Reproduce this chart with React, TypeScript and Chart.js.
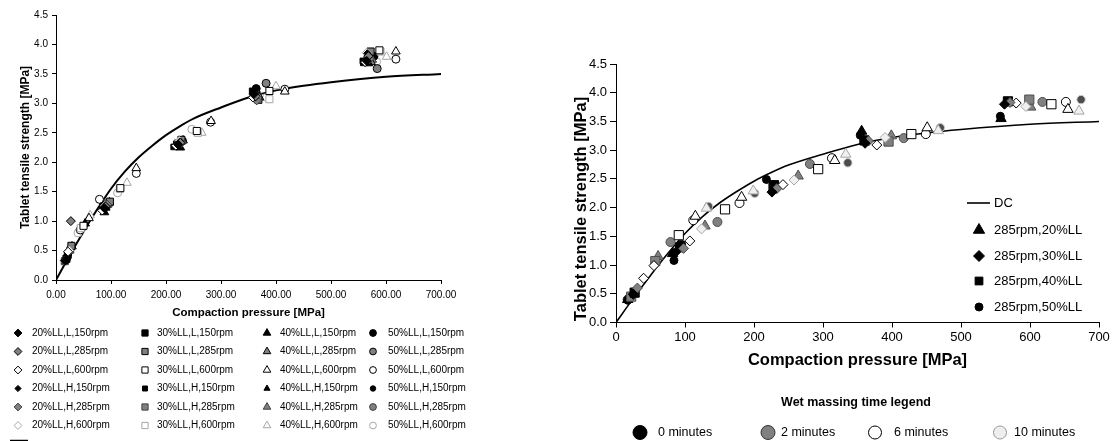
import React, { useEffect, useRef } from 'react';
import { Chart, registerables } from 'chart.js';

Chart.register(...registerables);

const FONT = "'Liberation Sans', Arial, Helvetica, sans-serif";

// ---------- DC reference curve ----------
const dcPressure = [0, 25, 50, 75, 100, 125, 150, 175, 200, 225, 250, 300, 350, 400, 450, 500, 600, 700];
const dcStrength = [0, 0.42, 0.82, 1.2, 1.55, 1.84, 2.08, 2.28, 2.46, 2.61, 2.74, 2.93, 3.1, 3.22, 3.3, 3.36, 3.45, 3.5];

// ---------- Left chart series: [pressure MPa, tensile strength MPa] ----------
const l20L150 = [[17, 0.33], [88, 1.22], [222, 2.3], [360, 3.16], [565, 3.72]];
const l20L285 = [[27, 1.0], [90, 1.25], [226, 2.33], [363, 3.12], [568, 3.8]];
const l20L600 = [[22, 0.48], [84, 1.18], [218, 2.28], [358, 3.1], [562, 3.7]];
const l20H150 = [[18, 0.34], [91, 1.24], [225, 2.35], [362, 3.1], [566, 3.85]];
const l20H285 = [[16, 0.33], [93, 1.28], [228, 2.33], [365, 3.05], [570, 3.75]];
const l20H600 = [[24, 0.5], [89, 1.26], [224, 2.36], [364, 3.12], [565, 3.86]];
const l30L150 = [[19, 0.36], [86, 1.24], [220, 2.3], [358, 3.2], [560, 3.7]];
const l30L285 = [[28, 0.58], [98, 1.33], [228, 2.38], [368, 3.06], [572, 3.88]];
const l30L600 = [[50, 0.92], [117, 1.56], [256, 2.53], [388, 3.21], [588, 3.9]];
const l30H150 = [[17, 0.33], [87, 1.2], [214, 2.26], [362, 3.14], [558, 3.72]];
const l30H285 = [[16, 0.32], [95, 1.3], [222, 2.32], [366, 3.08], [567, 3.78]];
const l30H600 = [[45, 0.88], [116, 1.55], [258, 2.5], [388, 3.07], [590, 3.88]];
const l40L150 = [[53, 0.96], [88, 1.15], [226, 2.25], [365, 3.14], [568, 3.68]];
const l40L285 = [[29, 0.57], [97, 1.32], [231, 2.37], [370, 3.1], [573, 3.7]];
const l40L600 = [[60, 1.05], [146, 1.9], [282, 2.7], [416, 3.2], [618, 3.88]];
const l40H150 = [[20, 0.38], [92, 1.22], [220, 2.27], [361, 3.18], [562, 3.74]];
const l40H285 = [[25, 0.5], [94, 1.28], [224, 2.34], [367, 3.13], [575, 3.74]];
const l40H600 = [[62, 1.1], [129, 1.65], [265, 2.5], [400, 3.29], [601, 3.79]];
const l50L150 = [[21, 0.4], [90, 1.27], [229, 2.36], [364, 3.25], [578, 3.8]];
const l50L285 = [[26, 0.52], [96, 1.3], [230, 2.36], [382, 3.34], [584, 3.59]];
const l50L600 = [[44, 0.85], [79, 1.37], [146, 1.81], [281, 2.68], [416, 3.24], [618, 3.75]];
const l50H150 = [[23, 0.45], [91, 1.25], [225, 2.33], [362, 3.12], [570, 3.84]];
const l50H285 = [[22, 0.46], [93, 1.27], [227, 2.36], [366, 3.15], [568, 3.82]];
const l50H600 = [[40, 0.8], [112, 1.48], [247, 2.56], [383, 3.1], [583, 3.71]];

const llLabels = ['20%LL', '30%LL', '40%LL', '50%LL'];
const leftVariantLabels = ['L,150rpm', 'L,285rpm', 'L,600rpm', 'H,150rpm', 'H,285rpm', 'H,600rpm'];
const leftSeries = [
  [l20L150, l20L285, l20L600, l20H150, l20H285, l20H600],
  [l30L150, l30L285, l30L600, l30H150, l30H285, l30H600],
  [l40L150, l40L285, l40L600, l40H150, l40H285, l40H600],
  [l50L150, l50L285, l50L600, l50H150, l50H285, l50H600],
];

// ---------- Right chart series (285 rpm), by liquid level and wet massing time ----------
const r20m0 = [[25, 0.49], [86, 1.22], [226, 2.27], [361, 3.12], [563, 3.8]];
const r20m2 = [[31, 0.6], [98, 1.29], [233, 2.33], [366, 3.16], [571, 3.83]];
const r20m6 = [[40, 0.77], [55, 0.99], [107, 1.42], [242, 2.4], [378, 3.09], [580, 3.82]];
const r20m10 = [[124, 1.63], [258, 2.48], [390, 3.22], [594, 3.76]];
const r30m0 = [[27, 0.52], [93, 1.31], [229, 2.39], [360, 3.17], [568, 3.85]];
const r30m2 = [[22, 0.45], [57, 1.07], [228, 2.35], [395, 3.15], [599, 3.88]];
const r30m6 = [[91, 1.52], [158, 1.97], [293, 2.67], [428, 3.28], [631, 3.8]];
const r30m10: number[][] = [];
const r40m0 = [[17, 0.4], [82, 1.2], [356, 3.33], [558, 3.55]];
const r40m2 = [[61, 1.15], [129, 1.68], [264, 2.55], [399, 3.25], [601, 3.75]];
const r40m6 = [[115, 1.85], [182, 2.18], [317, 2.82], [451, 3.39], [655, 3.71]];
const r40m10 = [[131, 1.99], [199, 2.29], [333, 2.93], [467, 3.34], [671, 3.68]];
const r50m0 = [[17, 0.39], [84, 1.08], [95, 1.36], [218, 2.49], [354, 3.26], [557, 3.59]];
const r50m2 = [[79, 1.4], [147, 1.75], [281, 2.76], [417, 3.21], [618, 3.84]];
const r50m6 = [[17, 0.4], [112, 1.78], [179, 2.08], [313, 2.86], [449, 3.28], [652, 3.84]];
const r50m10 = [[134, 2.02], [201, 2.25], [336, 2.78], [470, 3.39], [674, 3.88]];

const rightSeries = [
  [r20m0, r20m2, r20m6, r20m10],
  [r30m0, r30m2, r30m6, r30m10],
  [r40m0, r40m2, r40m6, r40m10],
  [r50m0, r50m2, r50m6, r50m10],
];
const minuteLabels = ['0 minutes', '2 minutes', '6 minutes', '10 minutes'];
const rightLegendLabels = ['285rpm,20%LL', '285rpm,30%LL', '285rpm,40%LL', '285rpm,50%LL'];

// ---------- styles ----------
const shapes = ['rectRot', 'rect', 'triangle', 'circle'];
const leftRadius = [4.5, 5, 5, 4];
const leftVariantStyle = [
  { fill: '#000000', stroke: '#000000', scale: 1 },
  { fill: '#808080', stroke: '#000000', scale: 1 },
  { fill: '#ffffff', stroke: '#000000', scale: 1 },
  { fill: '#000000', stroke: '#000000', scale: 0.8 },
  { fill: '#808080', stroke: '#404040', scale: 1 },
  { fill: '#ffffff', stroke: '#a6a6a6', scale: 1 },
];
const rightRadius = [5, 6.5, 6, 4.5];
const minuteStyle = [
  { fill: '#000000', stroke: '#000000' },
  { fill: '#808080', stroke: '#4d4d4d' },
  { fill: '#ffffff', stroke: '#000000' },
  { fill: '#f0f0f0', stroke: '#a6a6a6' },
];

const toXY = (pairs: number[][]) => pairs.map(([x, y]) => ({ x, y }));
const dcData = dcPressure.map((p, i) => ({ x: p, y: dcStrength[i] }));

function drawMarker(ctx: CanvasRenderingContext2D, shape: string, x: number, y: number, r: number, fill: string, stroke: string) {
  ctx.save();
  ctx.beginPath();
  if (shape === 'circle') {
    ctx.arc(x, y, r, 0, Math.PI * 2);
  } else if (shape === 'rect') {
    const s = r * Math.SQRT1_2;
    ctx.rect(x - s, y - s, 2 * s, 2 * s);
  } else if (shape === 'rectRot') {
    ctx.moveTo(x - r, y);
    ctx.lineTo(x, y - r);
    ctx.lineTo(x + r, y);
    ctx.lineTo(x, y + r);
  } else {
    let rad = 0;
    ctx.moveTo(x + Math.sin(rad) * r, y - Math.cos(rad) * r);
    rad += (2 * Math.PI) / 3;
    ctx.lineTo(x + Math.sin(rad) * r, y - Math.cos(rad) * r);
    rad += (2 * Math.PI) / 3;
    ctx.lineTo(x + Math.sin(rad) * r, y - Math.cos(rad) * r);
  }
  ctx.closePath();
  ctx.fillStyle = fill;
  ctx.fill();
  ctx.lineWidth = 1;
  ctx.strokeStyle = stroke;
  ctx.stroke();
  ctx.restore();
}

function drawText(ctx: CanvasRenderingContext2D, text: string, x: number, y: number, font: string, align: CanvasTextAlign = 'left', rotate = 0) {
  ctx.save();
  ctx.font = font;
  ctx.fillStyle = '#000';
  ctx.textAlign = align;
  ctx.textBaseline = 'middle';
  ctx.translate(x, y);
  if (rotate) ctx.rotate(rotate);
  ctx.fillText(text, 0, 0);
  ctx.restore();
}

function axisBase(tickDigits: number, size: number, tickLen: number, pad: number) {
  return {
    type: 'linear' as const,
    ticks: {
      font: { family: FONT, size },
      color: '#000',
      padding: pad,
      maxRotation: 0,
      autoSkip: false,
      callback: (v: any) => Number(v).toFixed(tickDigits),
    },
    grid: { display: true, drawOnChartArea: false, drawTicks: true, tickLength: tickLen, color: '#000', lineWidth: 1 },
    border: { display: true, color: '#000', width: 1 },
  };
}

function leftConfig(): any {
  const datasets: any[] = [];
  leftSeries.forEach((group, li) => {
    group.forEach((pairs, vi) => {
      const st = leftVariantStyle[vi];
      datasets.push({
        type: 'scatter',
        label: `${llLabels[li]},${leftVariantLabels[vi]}`,
        data: toXY(pairs),
        pointStyle: shapes[li],
        pointRadius: leftRadius[li] * st.scale,
        pointBackgroundColor: st.fill,
        pointBorderColor: st.stroke,
        pointBorderWidth: 1,
        showLine: false,
      });
    });
  });
  datasets.push({
    type: 'line',
    label: 'DC',
    data: dcData,
    borderColor: '#000',
    borderWidth: 2,
    pointRadius: 0,
    cubicInterpolationMode: 'monotone',
    fill: false,
  });

  const legendPlugin = {
    id: 'leftLegend',
    afterDraw(chart: any) {
      const ctx = chart.ctx as CanvasRenderingContext2D;
      const markerX = [18, 145, 267, 373];
      const textX = [32, 157, 280, 388];
      const rowY = [333, 351.5, 370, 388.5, 407, 425.5];
      const font = `10px ${FONT}`;
      leftSeries.forEach((group, li) => {
        group.forEach((_, vi) => {
          const st = leftVariantStyle[vi];
          drawMarker(ctx, shapes[li], markerX[li], rowY[vi], (leftRadius[li] - 0.6) * st.scale, st.fill, st.stroke);
          drawText(ctx, `${llLabels[li]},${leftVariantLabels[vi]}`, textX[li], rowY[vi], font);
        });
      });
      ctx.save();
      ctx.beginPath();
      ctx.moveTo(10, 440.5);
      ctx.lineTo(28, 440.5);
      ctx.lineWidth = 1.5;
      ctx.strokeStyle = '#000';
      ctx.stroke();
      ctx.restore();
      drawText(ctx, 'DC', 31, 446, font);
    },
  };

  const x = axisBase(2, 10, 4, 5);
  const y = axisBase(1, 10, 4, 4);
  return {
    type: 'scatter',
    data: { datasets },
    plugins: [legendPlugin],
    options: {
      animation: false,
      responsive: false,
      devicePixelRatio: 1,
      layout: { padding: { left: 0, top: 15, right: 117, bottom: 116 } },
      plugins: { legend: { display: false }, tooltip: { enabled: false } },
      scales: {
        x: {
          ...x,
          min: 0,
          max: 700,
          ticks: { ...x.ticks, stepSize: 100 },
          title: {
            display: true,
            text: 'Compaction pressure [MPa]',
            color: '#000',
            font: { family: FONT, size: 11.5, weight: 'bold' },
            padding: { top: 0, bottom: 5 },
          },
          afterFit: (s: any) => { s.height = 45; },
        },
        y: {
          ...y,
          min: 0,
          max: 4.5,
          ticks: { ...y.ticks, stepSize: 0.5 },
          title: {
            display: true,
            text: 'Tablet tensile strength [MPa]',
            color: '#000',
            font: { family: FONT, size: 12, weight: 'bold' },
            padding: { top: 18, bottom: 0 },
          },
          afterFit: (s: any) => { s.width = 56; },
        },
      },
    },
  };
}

function rightConfig(): any {
  const datasets: any[] = [];
  rightSeries.forEach((group, li) => {
    group.forEach((pairs, mi) => {
      if (!pairs.length) return;
      let st = minuteStyle[mi];
      let r = rightRadius[li];
      if (li === 3 && mi === 0) r = 4;
      if (li === 3 && mi === 3) { st = { fill: '#4d4d4d', stroke: '#c8c8c8' }; r = 4.2; }
      datasets.push({
        type: 'scatter',
        label: `${rightLegendLabels[li]} ${minuteLabels[mi]}`,
        data: toXY(pairs),
        pointStyle: shapes[li],
        pointRadius: r,
        pointBackgroundColor: st.fill,
        pointBorderColor: st.stroke,
        pointBorderWidth: 1,
        showLine: false,
      });
    });
  });
  datasets.push({
    type: 'line',
    label: 'DC',
    data: dcData,
    borderColor: '#000',
    borderWidth: 1.6,
    pointRadius: 0,
    cubicInterpolationMode: 'monotone',
    fill: false,
  });

  const OX = 558;
  const legendPlugin = {
    id: 'rightLegend',
    afterDraw(chart: any) {
      const ctx = chart.ctx as CanvasRenderingContext2D;
      const f13 = `13px ${FONT}`;
      // y axis title
      drawText(ctx, 'Tablet tensile strength [MPa]', 581 - OX, 209, `bold 16.5px ${FONT}`, 'center', -Math.PI / 2);
      // inner legend
      ctx.save();
      ctx.beginPath();
      ctx.moveTo(967 - OX, 203);
      ctx.lineTo(990 - OX, 203);
      ctx.lineWidth = 1.6;
      ctx.strokeStyle = '#000';
      ctx.stroke();
      ctx.restore();
      drawText(ctx, 'DC', 994 - OX, 203, f13);
      const ly = [230, 256, 281, 307];
      const lr = [5.5, 5.5, 6.5, 4];
      const order = [2, 0, 1, 3];
      rightLegendLabels.forEach((lab, i) => {
        drawMarker(ctx, shapes[order[i]], 979 - OX, ly[i], lr[order[i]], '#000', '#000');
        drawText(ctx, lab, 994 - OX, ly[i], f13);
      });
      // wet massing time legend
      drawText(ctx, 'Wet massing time legend', 856 - OX, 403, `bold 12.5px ${FONT}`, 'center');
      const cx = [640, 768, 875, 1000];
      const tx = [658, 781, 894, 1014];
      const cr = [7, 7, 6.5, 6.5];
      const cFill = ['#000000', '#808080', '#ffffff', '#eeeeee'];
      const cStroke = ['#000000', '#333333', '#000000', '#999999'];
      minuteLabels.forEach((lab, i) => {
        drawMarker(ctx, 'circle', cx[i] - OX, 432.5, cr[i], cFill[i], cStroke[i]);
        drawText(ctx, lab, tx[i] - OX, 432.5, `12.5px ${FONT}`);
      });
    },
  };

  const x = axisBase(0, 13, 5, 2);
  const y = axisBase(1, 13, 6, 3);
  return {
    type: 'scatter',
    data: { datasets },
    plugins: [legendPlugin],
    options: {
      animation: false,
      responsive: false,
      devicePixelRatio: 1,
      layout: { padding: { left: 0, top: 64, right: 17, bottom: 70.5 } },
      plugins: { legend: { display: false }, tooltip: { enabled: false } },
      scales: {
        x: {
          ...x,
          min: 0,
          max: 700,
          ticks: { ...x.ticks, stepSize: 100 },
          title: {
            display: true,
            text: 'Compaction pressure [MPa]',
            color: '#000',
            font: { family: FONT, size: 16.5, weight: 'bold' },
            padding: { top: 0, bottom: 0 },
          },
          afterFit: (s: any) => { s.height = 48; },
        },
        y: {
          ...y,
          min: 0,
          max: 4.5,
          ticks: { ...y.ticks, stepSize: 0.5 },
          title: { display: false },
          afterFit: (s: any) => { s.width = 58; },
        },
      },
    },
  };
}

export default function App() {
  const leftRef = useRef<HTMLCanvasElement>(null);
  const rightRef = useRef<HTMLCanvasElement>(null);
  useEffect(() => {
    const c1 = new Chart(leftRef.current as HTMLCanvasElement, leftConfig());
    const c2 = new Chart(rightRef.current as HTMLCanvasElement, rightConfig());
    return () => {
      c1.destroy();
      c2.destroy();
    };
  }, []);
  return (
    <div style={{ position: 'fixed', left: 0, top: 0, width: 1116, height: 441, background: '#fff', overflow: 'hidden' }}>
      <canvas ref={leftRef} width={558} height={441} style={{ position: 'absolute', left: 0, top: 0, width: 558, height: 441 }} />
      <canvas ref={rightRef} width={558} height={441} style={{ position: 'absolute', left: 558, top: 0, width: 558, height: 441 }} />
    </div>
  );
}
